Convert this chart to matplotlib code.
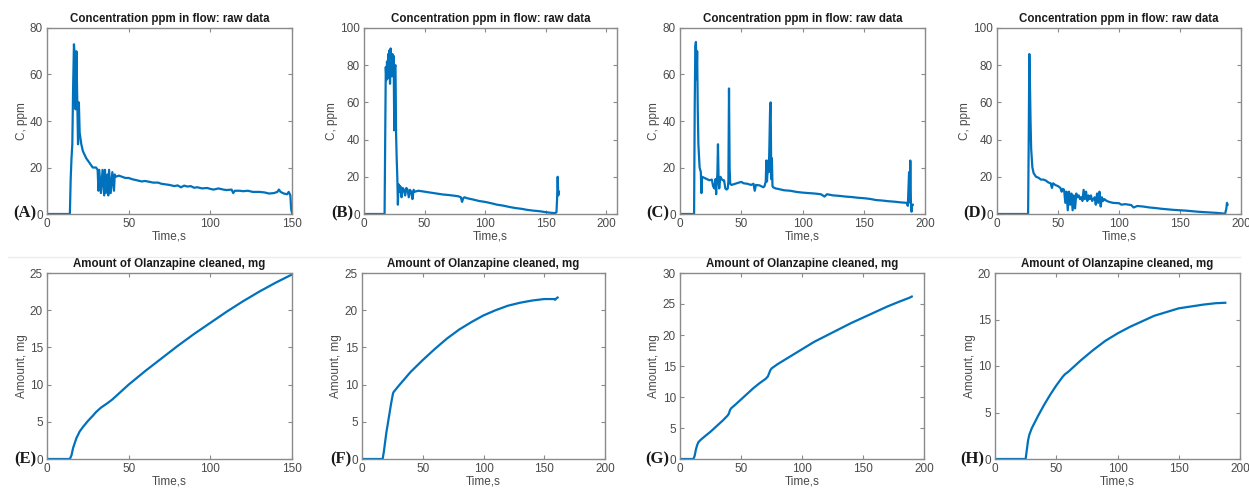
import matplotlib
matplotlib.use("Agg")
import matplotlib.pyplot as plt
from matplotlib.lines import Line2D

plt.rcParams['font.family'] = ['Liberation Sans', 'DejaVu Sans']

W, H = 1249, 490

# ---------------- data ----------------
tA = [0, 14, 14.5, 15, 15.5, 16, 16.5, 17, 17.5, 18, 18.5, 19, 19.5, 20, 21, 22, 24, 26, 28, 30, 31, 31.5, 32, 33, 34, 35, 35.5, 36, 37, 37.5, 38, 39, 40, 41, 41.5, 42, 44, 46, 48, 50, 52, 55, 58, 60, 63, 65, 68, 70, 72, 75, 78, 80, 82, 84, 86, 88, 90, 92, 95, 98, 100, 102, 105, 108, 110, 113, 114, 115, 118, 120, 123, 126, 130, 133, 136, 139, 141, 142, 143, 145, 147, 148, 149, 149.5, 150]
cA = [0, 0, 15, 24, 30, 55, 73, 68, 45, 70, 50, 30, 48, 35, 30, 27, 24, 22, 20, 20, 19, 10, 19, 9, 19, 8, 19, 9, 17, 8, 19, 9, 18, 10, 17, 16, 16.5, 16, 15.5, 15.5, 15, 14.5, 14, 14.2, 13.8, 13.5, 13.5, 13, 12.8, 12.5, 12, 12.3, 11.5, 12.2, 11.8, 12, 11.3, 11.5, 11, 11.2, 10.8, 10.5, 11, 10.5, 10.3, 10.5, 9, 10, 10, 9.8, 10, 9.5, 9.5, 9.3, 8.8, 9, 9.5, 10.5, 9.5, 8.8, 8.5, 9.5, 8, 2, 0.5]

tB = [0, 17, 17.5, 18, 18.5, 19, 19.5, 20, 20.5, 21, 21.5, 22, 22.5, 23, 23.5, 24, 24.5, 25, 25.5, 26, 26.5, 27, 27.5, 28, 28.5, 29, 30, 31, 32, 33, 34, 35, 36, 37, 38, 39, 40, 41, 42, 45, 50, 55, 60, 65, 70, 75, 78, 80, 81, 82, 83, 85, 90, 95, 100, 105, 110, 115, 120, 125, 130, 135, 140, 145, 150, 155, 158, 159, 159.5, 160, 160.5, 161]
cB = [0, 0, 40, 79, 72, 82, 75, 86, 73, 88, 70, 89, 80, 74, 86, 78, 85, 45, 79, 80, 43, 30, 20, 5, 16, 12, 15, 9, 14, 13, 10, 14, 13, 9, 13, 12, 8, 13, 12, 12.5, 12, 11.5, 11, 10.5, 10.2, 9.8, 9.5, 9, 6.5, 8.5, 9, 8.5, 7.8, 7, 6.5, 5.8, 5, 4.5, 3.8, 3.2, 2.8, 2.2, 1.8, 1.5, 1, 0.6, 0.5, 1, 8, 20, 10, 12]

tC = [0, 11.5, 12, 12.5, 13, 13.5, 14, 14.5, 15, 16, 17, 17.5, 18, 20, 22, 24, 26, 27, 28, 29, 29.5, 30, 30.5, 31, 31.5, 32, 33, 34, 35, 36, 37, 38, 39, 39.5, 40, 40.5, 41, 42, 45, 48, 50, 52, 55, 58, 60, 61, 62, 65, 68, 69, 70, 70.5, 71, 72, 72.5, 73, 73.5, 74, 74.5, 75, 75.5, 76, 78, 80, 85, 90, 95, 100, 105, 110, 115, 118, 120, 125, 130, 135, 140, 145, 150, 155, 160, 165, 170, 175, 180, 185, 186, 187, 187.5, 188, 188.5, 189, 189.5, 190]
cC = [0, 0, 45, 72, 74, 58, 70, 45, 30, 20, 18, 9, 16, 15.5, 15, 14.5, 14.8, 12, 11, 15, 8.5, 14, 17, 30, 15, 11, 16, 15, 14.5, 14.5, 11, 10.5, 11, 14, 54, 20, 13, 12.5, 13, 13.5, 13.8, 13.2, 13, 12.5, 13, 10, 12.5, 12.3, 11.5, 12, 14, 23, 14, 23, 18, 30, 44, 48, 15, 24, 12, 11.5, 11, 10.8, 10.2, 10, 9.5, 9.2, 9, 8.8, 8.5, 7.5, 8.5, 8, 7.8, 7.5, 7.3, 7, 6.8, 6.5, 6, 5.8, 5.5, 5.3, 5, 4.8, 3.5, 18, 5, 23, 5, 1, 4, 4]

tD = [0, 25.5, 26, 26.5, 27, 27.5, 28, 29, 30, 32, 34, 36, 38, 40, 42, 44, 45, 46, 48, 50, 52, 53, 54, 55, 56, 57, 58, 59, 60, 61, 62, 63, 64, 65, 66, 67, 68, 69, 70, 71, 72, 73, 74, 75, 76, 77, 78, 80, 81, 82, 83, 84, 85, 86, 87, 88, 90, 92, 95, 100, 102, 105, 110, 112, 115, 120, 125, 130, 135, 140, 145, 150, 155, 160, 165, 170, 175, 180, 185, 187, 188, 188.5, 189]
cD = [0, 0, 40, 86, 70, 50, 35, 25, 22, 20, 19.5, 18.5, 18.5, 18, 17, 16.5, 14, 16.5, 15.5, 15, 14, 12, 13.5, 13, 6, 12, 2, 12, 5, 11, 2, 10, 3, 11, 9, 10, 8, 9, 7, 13, 8, 12, 7, 10, 8, 10, 7, 9, 5, 11, 6, 12, 4, 9, 7, 8, 7, 6.5, 6, 5.8, 5, 5.3, 4.8, 3.5, 4.3, 4, 3.5, 3.2, 2.8, 2.5, 2.2, 2, 1.8, 1.5, 1.2, 1, 0.8, 0.6, 0.3, 0.2, 3, 6, 5]

tE = [0, 14, 15, 16, 18, 20, 22, 25, 28, 30, 33, 35, 37, 40, 45, 50, 55, 60, 70, 80, 90, 100, 110, 120, 130, 140, 150]
aE = [0, 0, 0.5, 1.5, 2.8, 3.7, 4.3, 5.1, 5.8, 6.3, 6.9, 7.2, 7.5, 8.0, 9.0, 10.0, 10.9, 11.8, 13.5, 15.2, 16.8, 18.3, 19.8, 21.2, 22.5, 23.7, 24.8]

tF = [0, 17, 18, 20, 22, 24, 25.5, 26, 30, 40, 50, 60, 70, 80, 90, 100, 110, 120, 130, 140, 150, 158, 159, 160, 161]
aF = [0, 0, 1, 3.5, 5.5, 7.5, 8.8, 9, 9.8, 11.7, 13.3, 14.8, 16.2, 17.4, 18.4, 19.3, 20.0, 20.6, 21.0, 21.3, 21.5, 21.5, 21.4, 21.6, 21.7]

tG = [0, 11, 12, 13, 14, 15, 17, 20, 25, 30, 35, 39, 40, 41, 42, 45, 50, 55, 60, 65, 70, 72, 73, 74, 75, 80, 90, 100, 110, 120, 130, 140, 150, 160, 170, 180, 188, 190]
aG = [0, 0, 0.5, 1.5, 2.2, 2.7, 3.1, 3.6, 4.4, 5.3, 6.2, 7.0, 7.3, 7.9, 8.2, 8.7, 9.6, 10.5, 11.4, 12.2, 12.9, 13.3, 13.8, 14.3, 14.6, 15.3, 16.5, 17.7, 18.9, 19.9, 20.9, 21.9, 22.8, 23.7, 24.6, 25.4, 26.0, 26.2]

tH = [0, 25, 26, 27, 28, 30, 35, 40, 45, 50, 55, 57, 60, 65, 70, 80, 90, 100, 110, 120, 130, 140, 150, 160, 170, 180, 188]
aH = [0, 0, 1, 2, 2.6, 3.3, 4.6, 5.8, 6.9, 7.9, 8.8, 9.1, 9.4, 10.0, 10.6, 11.7, 12.7, 13.5, 14.2, 14.8, 15.4, 15.8, 16.2, 16.4, 16.6, 16.75, 16.8]

panel_letters = ["(A)", "(B)", "(C)", "(D)", "(E)", "(F)", "(G)", "(H)"]
top_title = "Concentration ppm in flow: raw data"
bot_title = "Amount of Olanzapine cleaned, mg"
top_ylabel = "C, ppm"
bot_ylabel = "Amount, mg"
xlabel_txt = "Time,s"

top_series = [(tA, cA), (tB, cB), (tC, cC), (tD, cD)]
bot_series = [(tE, aE), (tF, aF), (tG, aG), (tH, aH)]
top_xlim = [(0, 150), (0, 209), (0, 200), (0, 200)]
bot_xlim = [(0, 150), (0, 200), (0, 200), (0, 200)]
top_xticks = [[0, 50, 100, 150], [0, 50, 100, 150, 200], [0, 50, 100, 150, 200], [0, 50, 100, 150, 200]]
bot_xticks = top_xticks
top_ylim = [80, 100, 80, 100]
top_ystep = [20, 20, 20, 20]
bot_ylim = [25, 25, 30, 20]
bot_ystep = [5, 5, 5, 5]

# ---------------- layout (pixels) ----------------
top_lr = [(47, 292), (364, 617), (680, 925), (997, 1241)]
bot_lr = [(47, 292), (362, 605), (680, 924), (995, 1240)]
top_tb = (28, 214)
bot_tb = (273, 459)

LINE = '#0072BD'
SPINE = '#8a8a8a'
TICKC = '#4a4a4a'

fig = plt.figure(figsize=(W / 100, H / 100), dpi=100)
fig.patch.set_facecolor('white')

# faint separator seen in the picture
fig.add_artist(Line2D([8 / W, 1240 / W], [1 - 257 / H, 1 - 257 / H], color='#ececec', lw=1))


def make_ax(lr, tb, t, y, xlim, xticks, ymax, ystep, title, ylabel):
    l, r = lr
    tp, bt = tb
    ax = fig.add_axes([l / W, 1 - bt / H, (r - l) / W, (bt - tp) / H])
    ax.plot(t, y, color=LINE, lw=1.6)
    ax.set_xlim(*xlim)
    ax.set_ylim(0, ymax)
    ax.set_xticks(xticks)
    ax.set_yticks(list(range(0, ymax + 1, ystep)))
    for s in ax.spines.values():
        s.set_color(SPINE)
        s.set_linewidth(1.0)
    ax.tick_params(direction='in', length=3, width=0.8, color=SPINE, top=True, right=True,
                   labelsize=8.5, labelcolor=TICKC, pad=3)
    ax.set_title(title, fontsize=8.3, fontweight='bold', color='#1a1a1a', pad=4)
    ax.set_xlabel(xlabel_txt, fontsize=8.5, color=TICKC, labelpad=0)
    ax.set_ylabel(ylabel, fontsize=8.5, color=TICKC, labelpad=1.5)
    return ax


letter_kw = dict(ha='right', va='center', fontsize=12, fontweight='bold',
                 family=['Liberation Serif', 'DejaVu Serif'], color='#1a1a1a')

for i in range(4):
    t, y = top_series[i]
    l = top_lr[i][0]
    make_ax(top_lr[i], top_tb, t, y, top_xlim[i], top_xticks[i], top_ylim[i], top_ystep[i], top_title, top_ylabel)
    fig.text((l - 11) / W, 1 - 213 / H, panel_letters[i], **letter_kw)

for i in range(4):
    t, y = bot_series[i]
    l = bot_lr[i][0]
    make_ax(bot_lr[i], bot_tb, t, y, bot_xlim[i], bot_xticks[i], bot_ylim[i], bot_ystep[i], bot_title, bot_ylabel)
    fig.text((l - 11) / W, 1 - 459 / H, panel_letters[4 + i], **letter_kw)

fig.savefig('out.png', dpi=100, facecolor='white')
